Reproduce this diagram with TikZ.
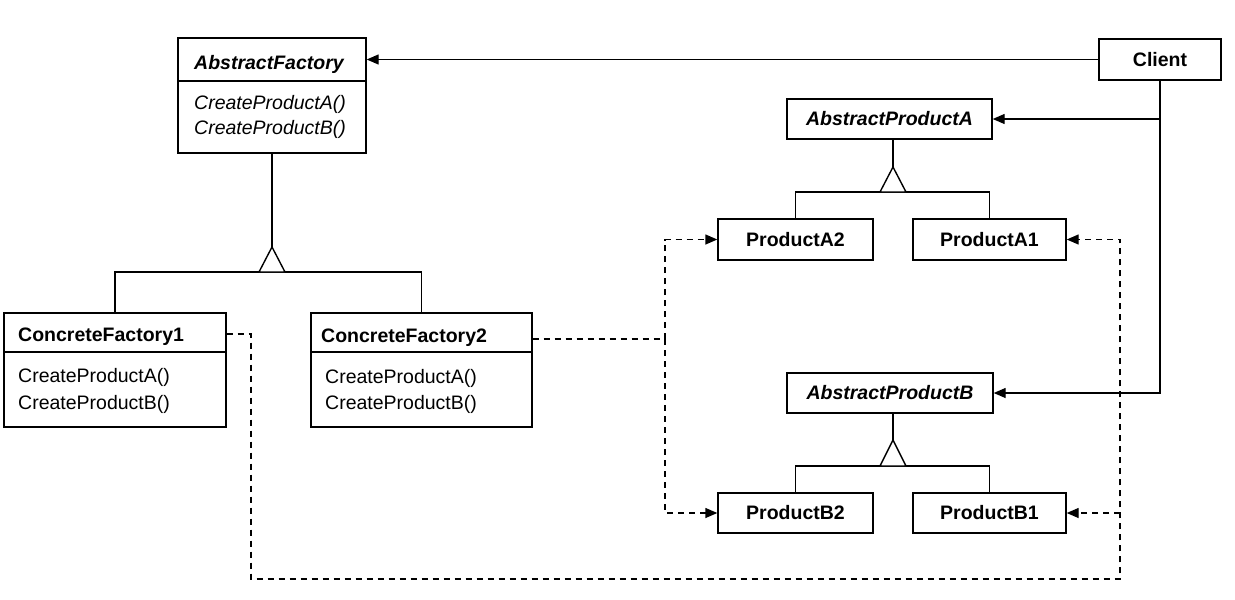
\documentclass[tikz,border=0pt]{standalone}
\usepackage{fontspec}
\setmainfont{Liberation Sans}
\usetikzlibrary{arrows.meta,calc}
\begin{document}
\begin{tikzpicture}[x=1pt,y=-1pt,
  every node/.style={font=\fontsize{19.5}{23}\selectfont, inner sep=0pt},
  cls/.style={draw, line width=1.4pt, rectangle, fill=white},
  bname/.style={font=\fontsize{19.5}{23}\selectfont\bfseries},
  aname/.style={font=\fontsize{19.5}{23}\selectfont\bfseries\itshape},
  meth/.style={font=\fontsize{19.5}{23}\selectfont, anchor=base west},
  ameth/.style={font=\fontsize{19.5}{23}\selectfont\itshape, anchor=base west},
  ln/.style={line width=1.4pt},
  gen/.style={line width=1.4pt, fill=white, line join=miter},
  assoc/.style={line width=1.4pt, -{Triangle[length=12pt,width=10pt]}},
  dep/.style={line width=1.4pt, dash pattern=on 6pt off 5pt},
  deparr/.style={line width=1.4pt, dash pattern=on 6pt off 5pt, -{Triangle[length=12pt,width=10pt]}}
]
\useasboundingbox (0,0) rectangle (1235,600);

% ---- boxes ----
\node[cls, minimum width=188pt, minimum height=115pt] (af) at (272,95.5) {};
\node[cls, minimum width=222pt, minimum height=114pt] (cf1) at (115,370) {};
\node[cls, minimum width=221pt, minimum height=114pt] (cf2) at (421.5,370) {};
\node[cls, bname, minimum width=122pt, minimum height=41pt] (client) at (1160,59.5) {Client};
\node[cls, aname, minimum width=205pt, minimum height=40pt] (apa) at (889.5,119) {AbstractProductA};
\node[cls, bname, minimum width=155pt, minimum height=41pt] (pa2) at (795.5,239.5) {ProductA2};
\node[cls, bname, minimum width=153pt, minimum height=41pt] (pa1) at (989.5,239.5) {ProductA1};
\node[cls, aname, minimum width=206pt, minimum height=40pt] (apb) at (890,393) {AbstractProductB};
\node[cls, bname, minimum width=155pt, minimum height=40pt] (pb2) at (795.5,513) {ProductB2};
\node[cls, bname, minimum width=153pt, minimum height=40pt] (pb1) at (989.5,513) {ProductB1};

% ---- compartments ----
\draw[ln] (af.west |- 0,81) -- (af.east |- 0,81);
\draw[ln] (cf1.west |- 0,352) -- (cf1.east |- 0,352);
\draw[ln] (cf2.west |- 0,352) -- (cf2.east |- 0,352);

\node[aname, anchor=base west] (aft) at (194,69) {AbstractFactory};
\node[ameth] (afm1) at (194,109) {CreateProductA()};
\node[ameth] (afm2) at (194,134) {CreateProductB()};

\node[bname, anchor=base west] (cf1t) at (18,341) {ConcreteFactory1};
\node[meth] (cf1m1) at (18,382) {CreateProductA()};
\node[meth] (cf1m2) at (18,409) {CreateProductB()};

\node[bname, anchor=base west] (cf2t) at (321,342) {ConcreteFactory2};
\node[meth] (cf2m1) at (325,383) {CreateProductA()};
\node[meth] (cf2m2) at (325,409) {CreateProductB()};

% ---- generalisation: factories ----
\coordinate (tf) at (272,247);
\coordinate (hf) at (272,272);
\draw[ln] (af.south) -- (tf);
\draw[ln] (cf1.north) |- (hf) -| (cf2.north);
\draw[gen] (tf) -- ++(-13,25) -- ++(26,0) -- cycle;

% ---- generalisation: products A ----
\coordinate (ta) at (893,167);
\coordinate (ha) at (893,192);
\draw[ln] (ta |- apa.south) -- (ta);
\draw[ln] (pa2.north) |- (ha) -| (pa1.north);
\draw[gen] (ta) -- ++(-13,25) -- ++(26,0) -- cycle;

% ---- generalisation: products B ----
\coordinate (tb) at (893,440);
\coordinate (hb) at (893,466);
\draw[ln] (tb |- apb.south) -- (tb);
\draw[ln] (pb2.north) |- (hb) -| (pb1.north);
\draw[gen] (tb) -- ++(-13,26) -- ++(26,0) -- cycle;

% ---- client associations ----
\draw[assoc] (client.west) -- (af.east |- client.west);
\draw[assoc] (client.south) |- (apb.east);
\draw[assoc] (client.south |- apa.east) -- (apa.east);

% ---- dependencies: ConcreteFactory1 ----
\coordinate (d1a) at (251,334);
\coordinate (d1b) at (1120,579);
\draw[deparr] (cf1.east |- d1a) -- (d1a) |- (d1b) -- (d1b |- pa1.east) -- (pa1.east);
\draw[deparr] (d1b |- pb1.east) -- (pb1.east);

% ---- dependencies: ConcreteFactory2 ----
\coordinate (d2) at (665,339);
\draw[dep] (cf2.east |- d2) -- (d2);
\draw[deparr] (d2) |- (pa2.west);
\draw[deparr] (d2) |- (pb2.west);
\end{tikzpicture}
\end{document}
